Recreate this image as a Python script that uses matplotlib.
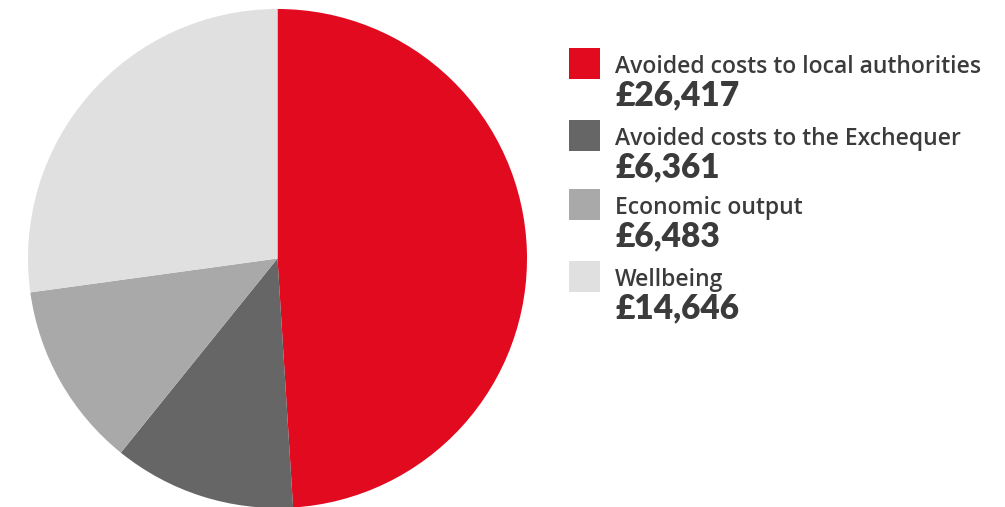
import matplotlib
matplotlib.use("Agg")
import matplotlib.pyplot as plt
from matplotlib.patches import Rectangle

# Data
labels = ["Avoided costs to local authorities",
          "Avoided costs to the Exchequer",
          "Economic output",
          "Wellbeing"]
values = [26417, 6361, 6483, 14646]
colors = ["#E20A1F", "#666666", "#A9A9A9", "#E0E0E0"]

W, H = 1005, 507
fig = plt.figure(figsize=(W / 100, H / 100), dpi=100)

# pie axes, placed in pixel coords
cx, cy, r = 277.5, 258.5, 249.5
ax = fig.add_axes([(cx - r) / W, 1 - (cy + r) / H, 2 * r / W, 2 * r / H])
ax.pie(values, colors=colors, startangle=90, counterclock=False,
       radius=1.0, wedgeprops=dict(linewidth=0))
ax.set_xlim(-1, 1)
ax.set_ylim(-1, 1)
ax.set_aspect("equal")
ax.axis("off")

# legend drawn by hand in figure pixel coords
txt_color = "#3b3b3b"
sq_x, sq_size = 569, 31
row_top = [48, 120, 189, 261]
for i, (lab, val, col) in enumerate(zip(labels, values, colors)):
    top = row_top[i]
    fig.patches.append(Rectangle((sq_x / W, 1 - (top + sq_size) / H),
                                 sq_size / W, sq_size / H,
                                 transform=fig.transFigure, facecolor=col,
                                 edgecolor="none"))
    fig.text(615 / W, 1 - (top + 25) / H, lab, fontsize=16.5,
             family="Open Sans", weight="semibold", color=txt_color,
             va="baseline", ha="left")
    fig.text(615 / W, 1 - (top + 57) / H, f"£{val:,}", fontsize=24,
             family="Lato", weight="heavy", color=txt_color,
             va="baseline", ha="left")

fig.savefig("out.png", dpi=100)
